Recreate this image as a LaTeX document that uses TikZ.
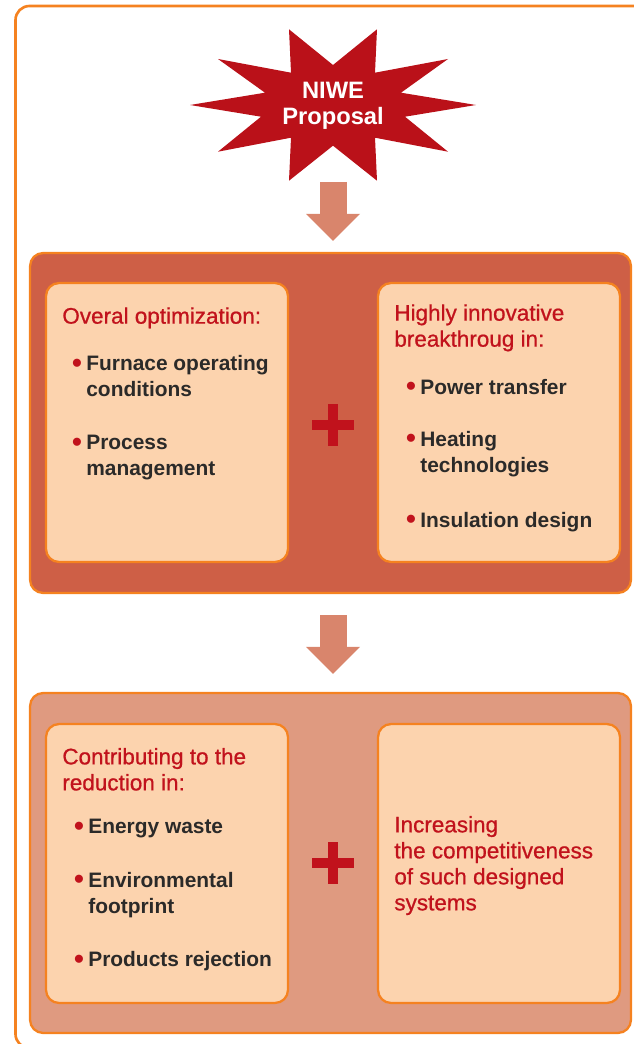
\documentclass[tikz,border=0pt]{standalone}
\usepackage{fontspec}
\setmainfont{Liberation Sans}
\newfontfamily\headfont{Liberation Sans}[FakeBold=0.8]
\usepackage{tikz}
\usetikzlibrary{arrows.meta}

\definecolor{frameorange}{RGB}{245,130,32}
\definecolor{panelone}{RGB}{206,95,70}
\definecolor{paneltwo}{RGB}{223,154,128}
\definecolor{boxfill}{RGB}{252,211,174}
\definecolor{starred}{RGB}{186,17,25}
\definecolor{niwered}{RGB}{193,18,28}
\definecolor{arrowpink}{RGB}{217,133,108}
\definecolor{itemgray}{RGB}{43,42,41}

\newcommand{\bul}{\llap{\raisebox{-1pt}{\textcolor{niwered}{\fontsize{16}{16}\selectfont\textbullet}}\hspace{2.5pt}}}

\begin{document}
\begin{tikzpicture}[x=0.02cm,y=-0.02cm,
	panel/.style={draw=frameorange, line width=1.3pt, rounded corners=0.26cm, minimum width=12.02cm, minimum height=6.8cm, inner sep=0pt},
	innerbox/.style={draw=frameorange, line width=1.3pt, fill=boxfill, rounded corners=0.26cm, minimum width=4.84cm, minimum height=5.58cm, inner sep=0pt},
	heading/.style={anchor=north west, inner sep=0pt, align=left, text=niwered, font=\headfont\fontsize{12.8}{14.8}\selectfont},
	item/.style={anchor=north west, inner sep=0pt, align=left, text=itemgray, font=\fontsize{11.9}{14.8}\selectfont\bfseries},
	flowarrow/.style={arrowpink, line width=0.54cm, -{Triangle[width=1.08cm,length=0.54cm,line width=0pt]}},
	plusbar/.style={fill=niwered}]
				%\draw [help lines] (0,0) grid (634,1044);
				\useasboundingbox (0,0) rectangle (634,1044);
				\clip (0,0) rectangle (634,1044);
				\draw [frameorange, line width=1.5pt, rounded corners=0.28cm] (15.5,6) rectangle (700,1048);

				% star
				\coordinate (starc) at (333,105);
				\begin{scope}[shift={(starc)}]
					\fill [starred] (0,-40) -- (44,-75.7) -- (42,-32.3) -- (115,-46) -- (68,-12.3) -- (143,0)
						-- (72,11.7) -- (115,46.7) -- (42,32.7) -- (44,75.7) -- (0,40.7) -- (-44,75.7)
						-- (-42,32.7) -- (-115,46.7) -- (-72,11.7) -- (-143,0) -- (-68,-12.3) -- (-115,-46)
						-- (-42,-32.3) -- (-44,-75.7) -- cycle;
				\end{scope}
				\node [text=white, align=center, inner sep=0pt, font=\fontsize{13.5}{14.8}\selectfont\bfseries] (niwe) at (333,106) {NIWE\\Proposal};

				% first stage
				\node [panel, fill=panelone] (stage1) at (330.5,423) {};
				\node [innerbox] (optim) at (167,422.5) {};
				\node [innerbox] (innov) at (499,422.5) {};
				\node [heading] (optimhead) at (62,307) {Overal optimization:};
				\node [item] (furnace) at (86,355) {\bul Furnace operating\\conditions};
				\node [item] (process) at (86,435) {\bul Process\\management};
				\node [heading] (innovhead) at (394,304) {Highly innovative\\breakthroug in:};
				\node [item] (power) at (420,378.5) {\bul Power transfer};
				\node [item] (heating) at (420,430.5) {\bul Heating\\technologies};
				\node [item] (insul) at (420,511.5) {\bul Insulation design};
				\coordinate (plus1) at (333,425);
				\fill [plusbar] (plus1) ++(-21,-5) rectangle ++(42,10);
				\fill [plusbar] (plus1) ++(-5,-21) rectangle ++(10,42);

				% second stage
				\node [panel, fill=paneltwo] (stage2) at (330.5,863) {};
				\node [innerbox] (reduc) at (167,863.5) {};
				\node [innerbox] (compet) at (499,863.5) {};
				\node [heading] (reduchead) at (62,747.7) {Contributing to the\\reduction in:};
				\node [item] (energy) at (88,818.5) {\bul Energy waste};
				\node [item] (environ) at (88,871.5) {\bul Environmental\\footprint};
				\node [item] (reject) at (88,950.8) {\bul Products rejection};
				\node [heading] (compethead) at (394,815.7) {Increasing\\the competitiveness\\of such designed\\systems};
				\coordinate (plus2) at (333,863);
				\fill [plusbar] (plus2) ++(-21,-5) rectangle ++(42,10);
				\fill [plusbar] (plus2) ++(-5,-21) rectangle ++(10,42);

				% arrows
				\coordinate (arr1) at (333,182);
				\coordinate (arr2) at (333,615);
				\draw [flowarrow, shorten >=0.22cm] (arr1) -- (arr1 |- stage1.north);
				\draw [flowarrow, shorten >=0.36cm] (arr2) -- (arr2 |- stage2.north);
		\end{tikzpicture}
\end{document}
